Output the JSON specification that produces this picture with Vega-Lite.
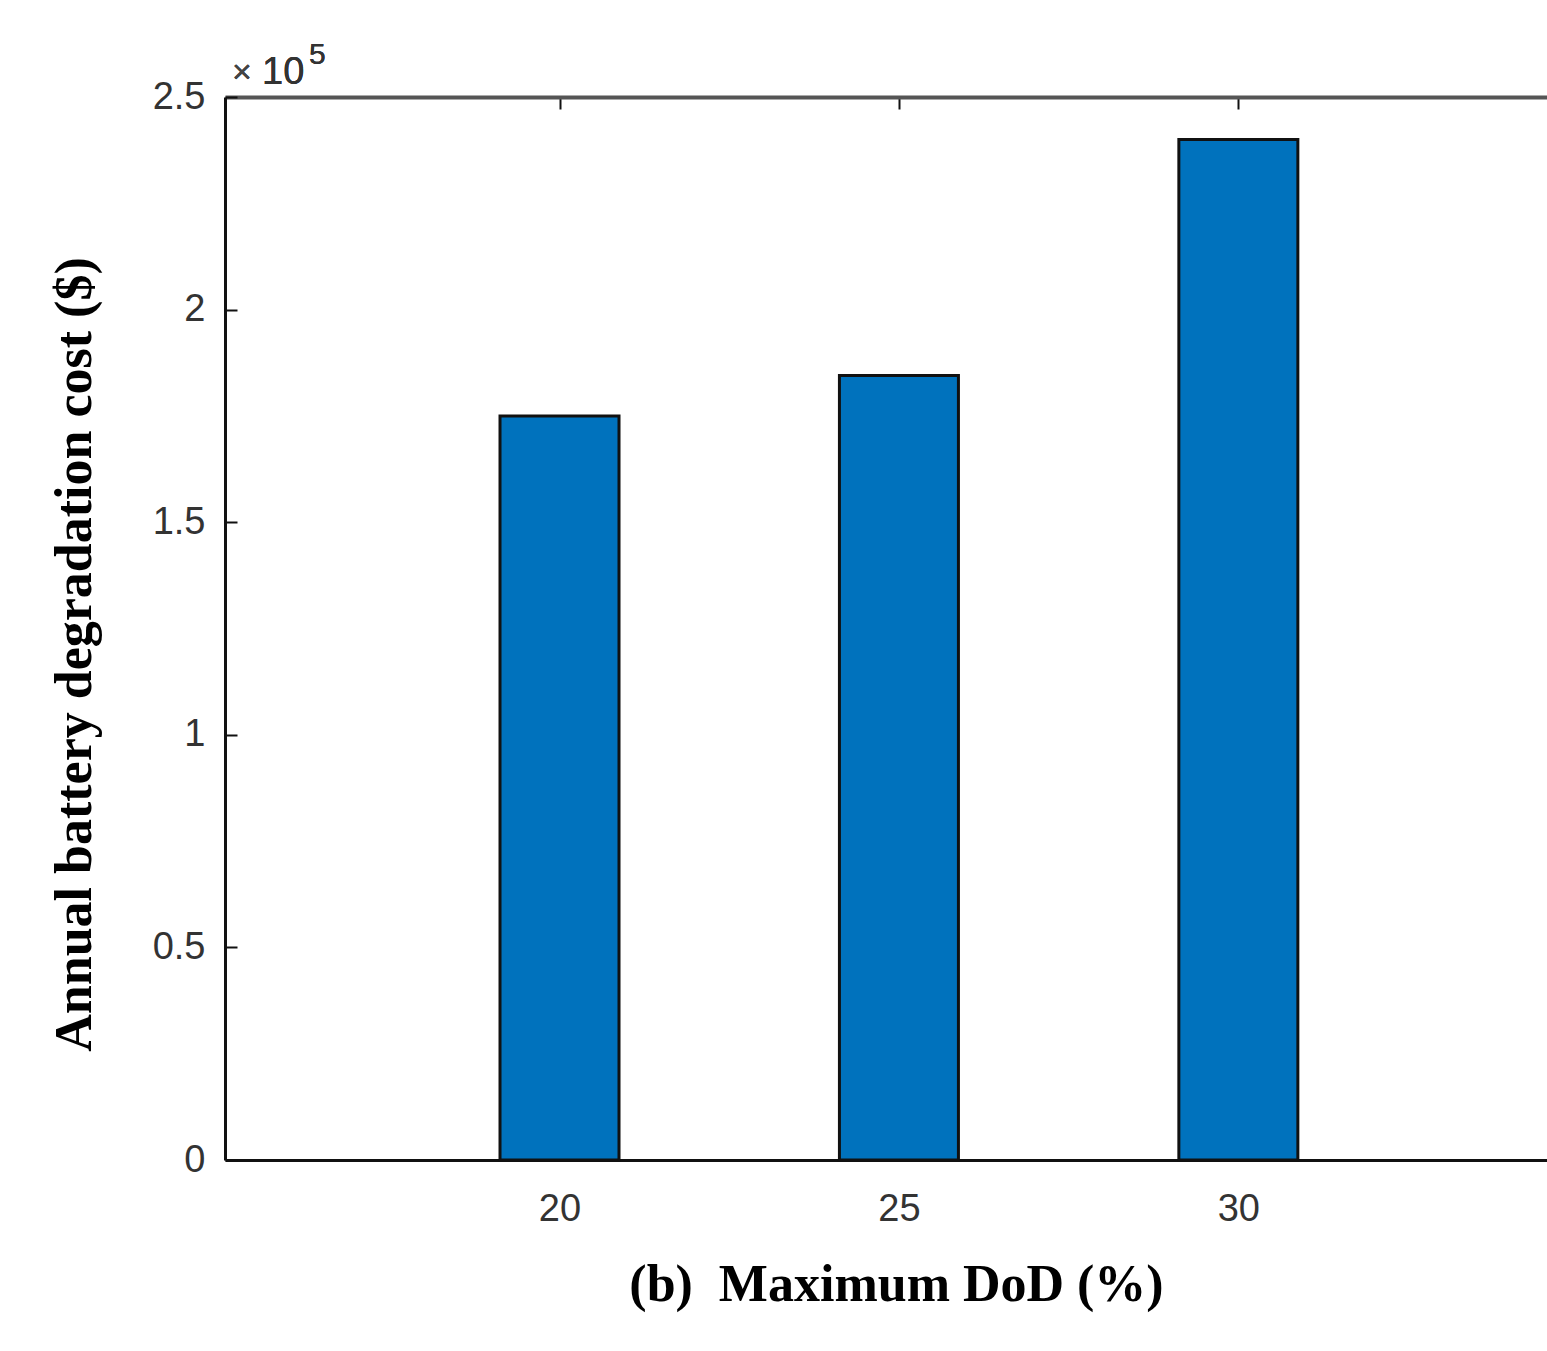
{
  "$schema": "https://vega.github.io/schema/vega-lite/v6.json",
  "autosize": {"type": "none"},
  "padding": {"left": 225, "top": 97, "right": 0, "bottom": 191},
  "width": 1322,
  "height": 1063,
  "background": "white",
  "config": {"view": {"stroke": null}},
  "data": {
    "values": [
      {"dod": 20, "cost": 175000},
      {"dod": 25, "cost": 184500},
      {"dod": 30, "cost": 240000}
    ]
  },
  "layer": [
    {
      "mark": {"type": "bar", "width": 119, "color": "#0072BD", "stroke": "#111111", "strokeWidth": 3},
      "encoding": {
        "x": {
          "field": "dod",
          "type": "quantitative",
          "scale": {"domain": [15.146, 34.473], "nice": false, "zero": false},
          "axis": {
            "orient": "bottom",
            "values": [20, 25, 30],
            "grid": false,
            "domainColor": "#111111",
            "domainWidth": 3,
            "tickColor": "#111111",
            "tickWidth": 2,
            "tickSize": -12,
            "labelFont": "Liberation Sans",
            "labelFontSize": 38,
            "labelColor": "#333333",
            "labelPadding": 42,
            "title": "(b)\u2002Maximum DoD (%)",
            "titleFont": "Liberation Serif",
            "titleFontSize": 52,
            "titleFontWeight": "bold",
            "titleColor": "#000000",
            "titleAnchor": "middle",
            "titleBaseline": "alphabetic",
            "titleX": 671,
            "titleY": 140
          }
        },
        "y": {
          "field": "cost",
          "type": "quantitative",
          "scale": {"domain": [0, 250000], "nice": false},
          "axis": {
            "orient": "left",
            "values": [0, 50000, 100000, 150000, 200000, 250000],
            "labelExpr": "datum.value / 100000",
            "grid": false,
            "domainColor": "#111111",
            "domainWidth": 3,
            "tickColor": "#111111",
            "tickWidth": 2,
            "tickSize": -12,
            "labelFont": "Liberation Sans",
            "labelFontSize": 38,
            "labelColor": "#333333",
            "labelPadding": 32,
            "title": "Annual battery degradation cost ($)",
            "titleFont": "Liberation Serif",
            "titleFontSize": 52,
            "titleFontWeight": "bold",
            "titleColor": "#000000",
            "titleAngle": 270,
            "titleBaseline": "alphabetic",
            "titleAnchor": "middle",
            "titleX": -135,
            "titleY": 557
          }
        }
      }
    },
    {
      "mark": {"type": "rule", "opacity": 0},
      "encoding": {
        "x": {
          "field": "dod",
          "type": "quantitative",
          "axis": {
            "orient": "top",
            "values": [20, 25, 30],
            "grid": false,
            "labels": false,
            "title": null,
            "domainColor": "#555555",
            "domainWidth": 4,
            "tickColor": "#111111",
            "tickWidth": 2,
            "tickSize": -12
          }
        },
        "y": {
          "field": "cost",
          "type": "quantitative",
          "axis": null
        }
      }
    },
    {
      "mark": {"type": "text", "text": "×", "align": "left", "baseline": "alphabetic", "font": "Liberation Sans", "fontSize": 34, "color": "#444444", "dx": 2, "dy": -14},
      "encoding": {
        "x": {"datum": 15.146, "type": "quantitative", "axis": null},
        "y": {"datum": 250000, "type": "quantitative", "axis": null}
      }
    },
    {
      "mark": {"type": "text", "text": "10", "align": "left", "baseline": "alphabetic", "font": "Liberation Sans", "fontSize": 38, "color": "#333333", "dx": 32, "dy": -13},
      "encoding": {
        "x": {"datum": 15.146, "type": "quantitative", "axis": null},
        "y": {"datum": 250000, "type": "quantitative", "axis": null}
      }
    },
    {
      "mark": {"type": "text", "text": "5", "align": "left", "baseline": "alphabetic", "font": "Liberation Sans", "fontSize": 30, "color": "#333333", "dx": 79, "dy": -33},
      "encoding": {
        "x": {"datum": 15.146, "type": "quantitative", "axis": null},
        "y": {"datum": 250000, "type": "quantitative", "axis": null}
      }
    }
  ],
  "resolve": {"axis": {"x": "independent", "y": "independent"}}
}
